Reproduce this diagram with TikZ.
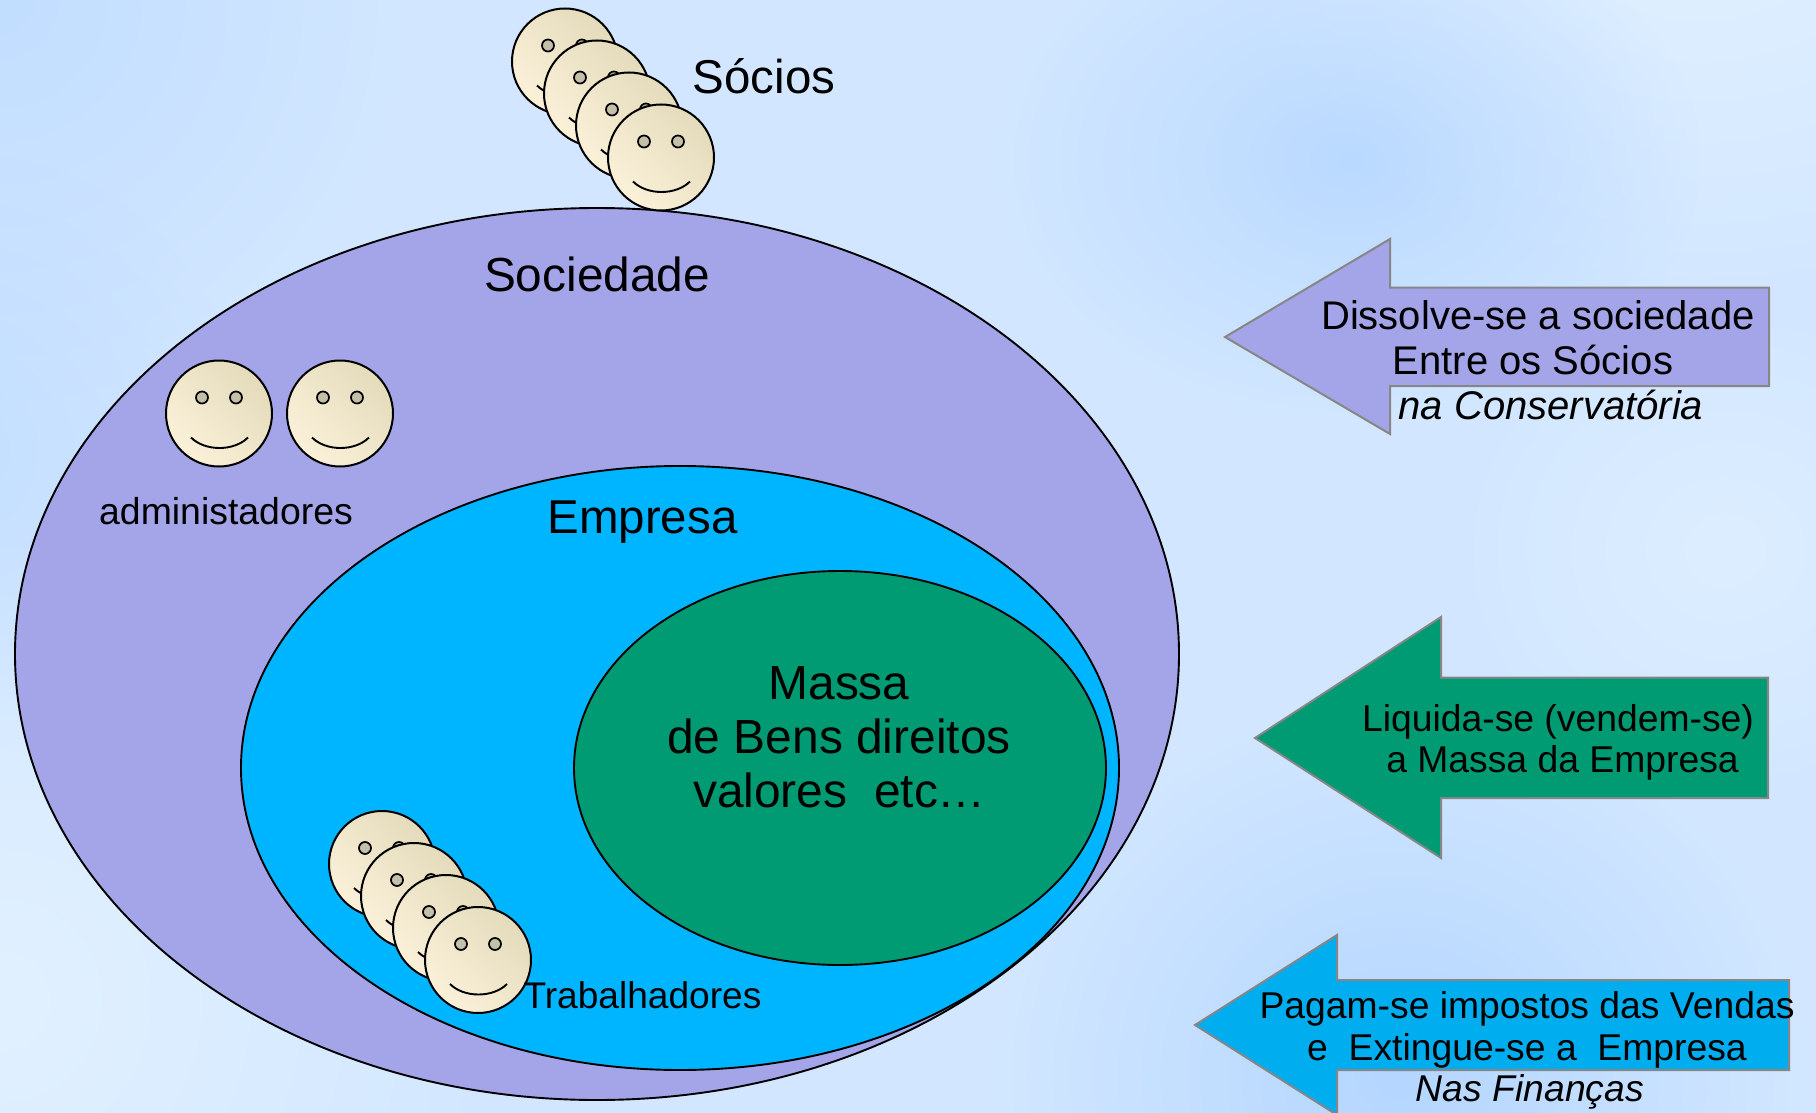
\documentclass[tikz,border=0pt]{standalone}
\usepackage{fontspec}
\setmainfont{Liberation Sans}
\usetikzlibrary{fadings}
\definecolor{f1}{HTML}{E4DBBC}
\definecolor{f2}{HTML}{FBF1D9}
\definecolor{eyec}{HTML}{C4BFA8}
\definecolor{lil}{HTML}{A4A4E8}
\definecolor{cy}{HTML}{00B5FF}
\definecolor{gr}{HTML}{009B73}
\definecolor{cy2}{HTML}{00AEEF}
\definecolor{bgA}{HTML}{D2E7FF}
\definecolor{bgB}{HTML}{B4D6FF}
\definecolor{bgC}{HTML}{E2F1FF}
\tikzfading[name=softblob,inner color=transparent!0,outer color=transparent!100]
\tikzset{
  ring/.style={draw=black,line width=1.9pt},
  block/.style={draw=gray!95,line width=2pt,line join=miter},
  lab/.style={anchor=base,inner sep=0pt,align=center,text=black},
  blob/.style={fill=#1,path fading=softblob,fit fading=true},
  pics/smiley/.style={code={
    \path[draw=black,line width=2pt,shade,shading=axis,top color=f1,bottom color=f2,shading angle=315] (0,0) circle[radius=53];
    \draw[draw=black,line width=1.7pt,fill=eyec] (-17,-16) circle[radius=6] (17,-16) circle[radius=6];
    \draw[black,line width=1.9pt] (-28,24) .. controls (-14,38) and (15,38) .. (29,24);
  }}
}
\newcommand{\fs}[1]{\fontsize{#1}{#1}\selectfont}
\begin{document}
\begin{tikzpicture}[x=1pt,y=-1pt]
\useasboundingbox (0,0) rectangle (1816,1113);
\clip (0,0) rectangle (1816,1113);
\fill[bgA] (0,0) rectangle (1816,1113);
% mottled background
\fill[blob=bgB,opacity=.55] (-400,-400) rectangle (400,400);
\fill[blob=bgC] (-500,500) rectangle (500,1500);
\fill[blob=bgC] (1200,-500) rectangle (2200,300);
\fill[blob=bgB,opacity=.8] (1000,-100) rectangle (1700,420);
\fill[blob=bgB] (1000,700) rectangle (1800,1450);
\fill[blob=bgB,opacity=.5] (-350,150) rectangle (250,750);
\fill[blob=bgC,opacity=.7] (1450,300) rectangle (2000,800);
% ellipses
\draw[ring,fill=lil] (597,654) ellipse[x radius=582,y radius=446];
\draw[ring,fill=cy] (680,768) ellipse[x radius=439,y radius=302];
\draw[ring,fill=gr] (840,768) ellipse[x radius=266,y radius=197];
% faces
\foreach \i in {0,1,2,3} {
  \pic at ({565+32*\i},{61.5+32*\i}) {smiley};
  \pic at ({382+32*\i},{864+32*\i}) {smiley};
}
\pic at (219,413.5) {smiley};
\pic at (340,413.5) {smiley};
% arrows
\draw[block,fill=lil] (1225,337) -- (1390,239) -- (1390,287.5) -- (1769,287.5) -- (1769,386) -- (1390,386) -- (1390,434) -- cycle;
\draw[block,fill=gr] (1255,738) -- (1441,617) -- (1441,677.5) -- (1768,677.5) -- (1768,798) -- (1441,798) -- (1441,858) -- cycle;
\draw[block,fill=cy2] (1195,1025) -- (1337,935) -- (1337,980) -- (1789,980) -- (1789,1070) -- (1337,1070) -- (1337,1115) -- cycle;
% labels
\node[lab,font=\fs{47.5}] (socios) at (764,94) {Sócios};
\node[lab,font=\fs{47.8}] (sociedade) at (597,291) {Sociedade};
\node[lab,font=\fs{47.5}] (empresa) at (642.5,533) {Empresa};
\node[lab,font=\fs{47.9}] (massa1) at (839,699) {Massa};
\node[lab,font=\fs{47.9}] (massa2) at (839,753) {de Bens direitos};
\node[lab,font=\fs{47.9}] (massa3) at (839.5,807) {valores\ \ etc…};
\node[lab,font=\fs{37.4}] (admin) at (226,524) {administadores};
\node[lab,font=\fs{37.1}] (trab) at (642.5,1008) {Trabalhadores};
\node[lab,font=\fs{40}] (a1) at (1538,329) {Dissolve-se a sociedade};
\node[lab,font=\fs{40}] (a2) at (1533,374) {Entre os Sócios};
\node[lab,font=\fs{40}\itshape] (a3) at (1551,419) {na Conservatória};
\node[lab,font=\fs{37.3}] (b1) at (1558,731) {Liquida-se (vendem-se)};
\node[lab,font=\fs{37.3}] (b2) at (1562.5,772) {a Massa da Empresa};
\node[lab,font=\fs{37.3}] (c1) at (1527,1018) {Pagam-se impostos das Vendas};
\node[lab,font=\fs{37.3}] (c2) at (1527,1060) {e\ \ Extingue-se a\ \ Empresa};
\node[lab,font=\fs{37.3}\itshape] (c3) at (1530,1101) {Nas Finanças};
\end{tikzpicture}
\end{document}
